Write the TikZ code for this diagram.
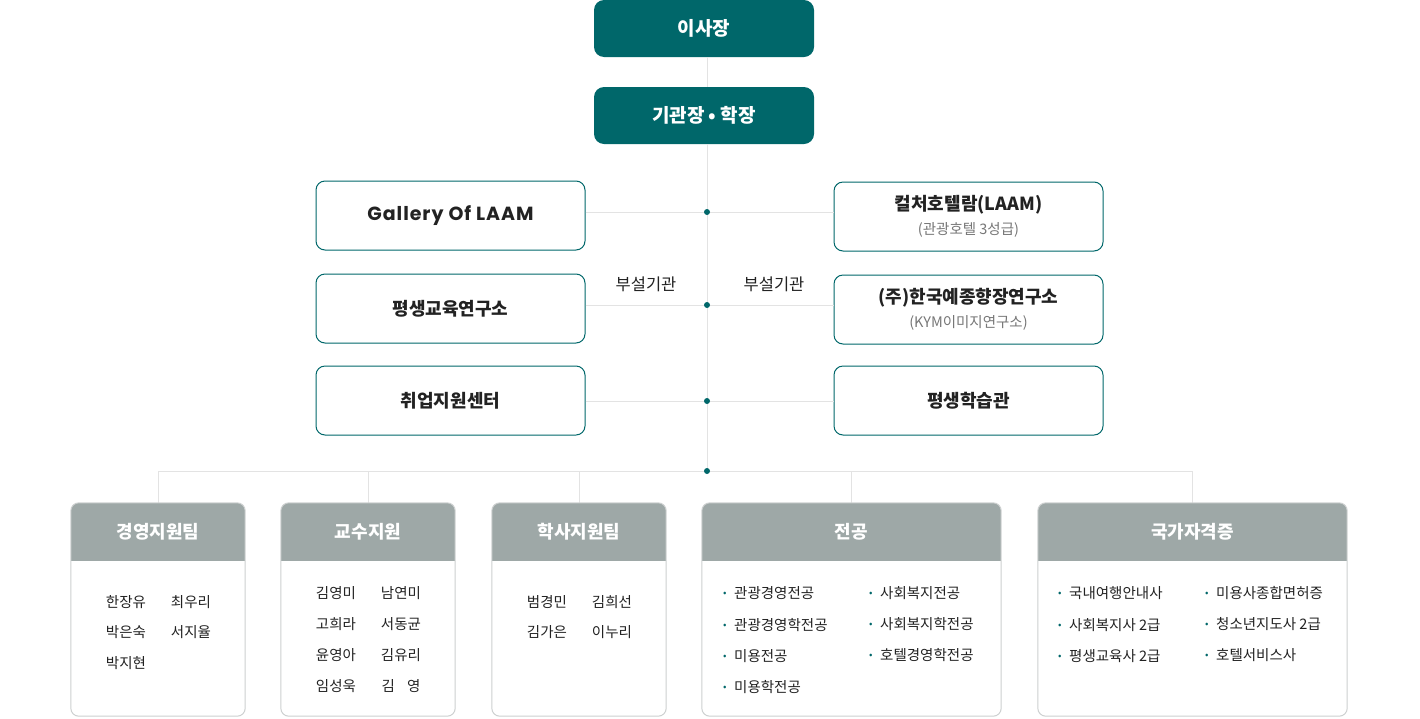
\documentclass[tikz,border=0pt]{standalone}
\usepackage{fontspec}
\setmainfont{Noto Sans CJK KR}
\newfontfamily\popfont{Poppins}[LetterSpace=5]
\usetikzlibrary{positioning}
\definecolor{mainteal}{HTML}{00676A}
\definecolor{headgray}{HTML}{9EA8A7}
\definecolor{linec}{HTML}{E3E3E3}
\definecolor{edgec}{HTML}{CDD0D0}
\definecolor{textc}{HTML}{222222}
\definecolor{subc}{HTML}{777777}
\newcommand{\bul}{\makebox[11pt][l]{\color{mainteal}\raisebox{1.5pt}{\scalebox{0.7}{\textbullet}}}}
\newcommand{\subtxt}[1]{{\fontsize{14.5pt}{16pt}\selectfont\mdseries\color{subc}#1}}
\tikzset{
  headbox/.style={fill=mainteal, rounded corners=10pt, minimum width=220pt, minimum height=57pt,
    inner sep=0pt, text=white, font=\fontsize{19pt}{22pt}\selectfont\bfseries},
  unitbox/.style={draw=mainteal, line width=1pt, fill=white, rounded corners=9pt,
    minimum width=269pt, minimum height=69pt, inner sep=0pt, align=center, text=textc,
    font=\fontsize{18pt}{22pt}\selectfont\bfseries},
  team/.style={minimum height=213pt, inner sep=0pt},
  teamhead/.style={text=white, font=\fontsize{18pt}{20pt}\selectfont\bfseries},
  member/.style={text=textc, inner sep=0pt, font=\fontsize{14.5pt}{16pt}\selectfont},
  entry/.style={member, anchor=west},
  link/.style={draw=linec, line width=1pt},
  joint/.style={circle, fill=mainteal, inner sep=0pt, minimum size=6pt},
  tag/.style={text=textc, font=\fontsize{16.5pt}{18pt}\selectfont}
}
\begin{document}
\begin{tikzpicture}[x=1pt, y=-1pt]
\useasboundingbox (0,0) rectangle (1420,718);

% top
\node[headbox] (chair) at (704,28.5) {이사장};
\node[headbox] (dean) at (704,115.5) {기관장 \textbullet{} 학장};

% spine and joints
\coordinate (j1) at (707,212);
\coordinate (j2) at (707,305);
\coordinate (j3) at (707,401);
\coordinate (j4) at (707,471);
\draw[link] (chair.south -| j1) -- (dean.north -| j1);
\draw[link] (dean.south -| j1) -- (j4);

% attached institutes
\node[unitbox] (gallery) at (450.5,215.5) {\fontsize{19pt}{22pt}\selectfont\popfont Gallery Of LAAM};
\node[unitbox] (edu) at (450.5,308.5) {평생교육연구소};
\node[unitbox] (job) at (450.5,400.5) {취업지원센터};
\node[unitbox] (hotel) at (968.5,216.5) {컬처호텔람(LAAM)\\[2pt]\subtxt{(관광호텔 3성급)}};
\node[unitbox] (music) at (968.5,309.5) {(주)한국예종향장연구소\\[2pt]\subtxt{(KYM이미지연구소)}};
\node[unitbox] (life) at (968.5,400.5) {평생학습관};

\draw[link] (gallery.east |- j1) -- (hotel.west |- j1);
\draw[link] (edu.east |- j2) -- (music.west |- j2);
\draw[link] (job.east |- j3) -- (life.west |- j3);

\node[tag] (tagl) at (646,284) {부설기관};
\node[tag] (tagr) at (774,284) {부설기관};

% teams
\node[team, minimum width=174pt] (t1) at (158,609.5) {};
\node[team, minimum width=174pt] (t2) at (368,609.5) {};
\node[team, minimum width=174pt] (t3) at (579,609.5) {};
\node[team, minimum width=299pt] (t4) at (851.5,609.5) {};
\node[team, minimum width=309pt] (t5) at (1192.5,609.5) {};

\draw[link] (t1.north |- j4) -- (t5.north |- j4);
\foreach \t in {t1,t2,t3,t4,t5}
  \draw[link] (\t.north |- j4) -- (\t.north);

\foreach \t/\lbl in {t1/경영지원팀, t2/교수지원, t3/학사지원팀, t4/전공, t5/국가자격증} {
  \begin{scope}
    \clip[rounded corners=8pt] (\t.south west) rectangle (\t.north east);
    \fill[white] (\t.south west) rectangle (\t.north east);
    \fill[headgray] (\t.north west) rectangle ([yshift=-58pt]\t.north east);
  \end{scope}
  \draw[edgec, line width=1pt, rounded corners=8pt] (\t.south west) rectangle (\t.north east);
  \node[teamhead] (\t h) at ([yshift=-29pt]\t.north) {\lbl};
}

\foreach \p in {j1,j2,j3,j4}
  \node[joint] at (\p) {};

% members
\node[member] (a1) at (126,602) {한장유};
\node[member] (a2) at (191,602) {최우리};
\node[member] (a3) at (126,632) {박은숙};
\node[member] (a4) at (191,632) {서지율};
\node[member] (a5) at (126,663) {박지현};

\node[member] (b1) at (336,593) {김영미};
\node[member] (b2) at (401,593) {남연미};
\node[member] (b3) at (336,624) {고희라};
\node[member] (b4) at (401,624) {서동균};
\node[member] (b5) at (336,655) {윤영아};
\node[member] (b6) at (401,655) {김유리};
\node[member] (b7) at (336,686) {임성욱};
\node[member] (b8) at (401,686) {김\hspace{0.85em}영};

\node[member] (c1) at (547,602) {범경민};
\node[member] (c2) at (612,602) {김희선};
\node[member] (c3) at (547,632) {김가은};
\node[member] (c4) at (612,632) {이누리};

% majors
\node[entry] (d1) at (723,593) {\bul 관광경영전공};
\node[entry] (d2) at (723,625) {\bul 관광경영학전공};
\node[entry] (d3) at (723,656) {\bul 미용전공};
\node[entry] (d4) at (723,687) {\bul 미용학전공};
\node[entry] (d5) at (869,593) {\bul 사회복지전공};
\node[entry] (d6) at (869,624) {\bul 사회복지학전공};
\node[entry] (d7) at (869,655) {\bul 호텔경영학전공};

% licences
\node[entry] (e1) at (1058,593) {\bul 국내여행안내사};
\node[entry] (e2) at (1058,625) {\bul 사회복지사 2급};
\node[entry] (e3) at (1058,656) {\bul 평생교육사 2급};
\node[entry] (e4) at (1205,593) {\bul 미용사종합면허증};
\node[entry] (e5) at (1205,624) {\bul 청소년지도사 2급};
\node[entry] (e6) at (1205,655) {\bul 호텔서비스사};
\end{tikzpicture}
\end{document}
